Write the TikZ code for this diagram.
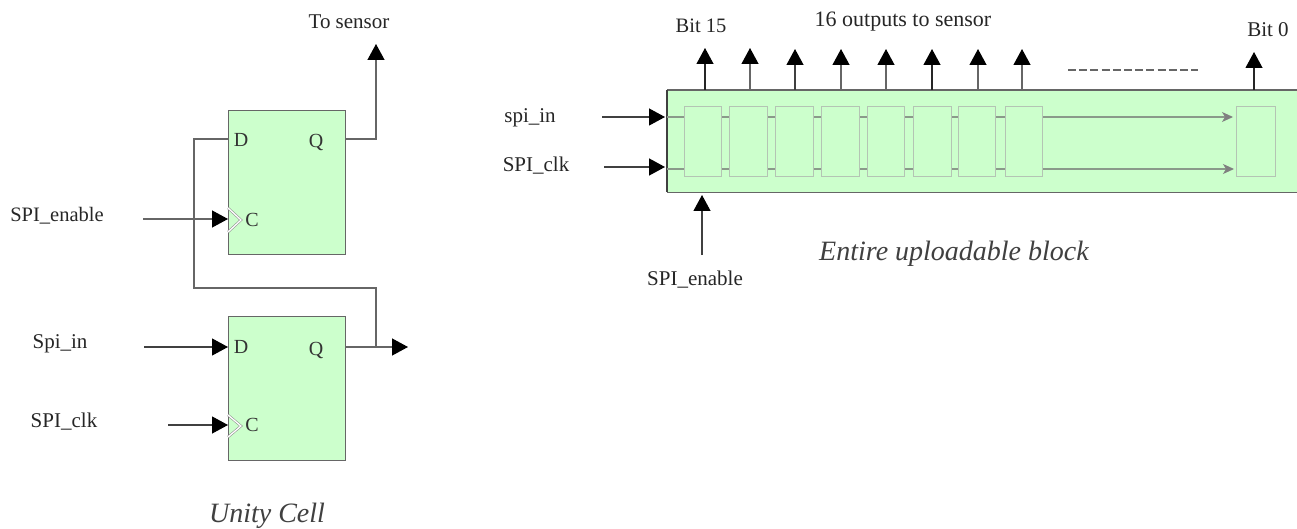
\documentclass[tikz,border=0pt]{standalone}
\usepackage{fontspec}
\setmainfont{Liberation Serif}
\usetikzlibrary{arrows.meta}
\definecolor{ffgreen}{HTML}{CCFFCC}
\definecolor{wire}{HTML}{666666}
\definecolor{cellgray}{HTML}{B4C4B4}
\definecolor{innergray}{HTML}{8A9A8A}
\tikzset{
  ffbox/.style={draw=wire,line width=1.2pt,fill=ffgreen,minimum width=117pt,minimum height=144pt,inner sep=0pt,anchor=north west},
  blockbox/.style={fill=ffgreen,minimum width=630pt,minimum height=102pt,inner sep=0pt,anchor=north west},
  cellbox/.style={draw=cellgray,line width=1.3pt,fill=ffgreen,minimum height=70pt,inner sep=0pt,anchor=north west},
  lbl/.style={font=\fontsize{21}{24}\selectfont,text=black!85,inner sep=0pt},
  pinlbl/.style={font=\fontsize{20}{22}\selectfont,text=black!80,inner sep=0pt},
  caplbl/.style={font=\fontsize{28}{30}\selectfont\itshape,text=black!75,inner sep=0pt},
  sig/.style={draw=wire,line width=1.3pt},
  sigarrow/.style={sig,-{Triangle[length=16pt,width=17pt,fill=black,color=black]}},
  darkarrow/.style={draw=black!75,line width=1.2pt,-{Triangle[length=16pt,width=17pt,fill=black,color=black]}},
  innerline/.style={draw=innergray,line width=1.1pt},
  innerarrow/.style={innerline,-{Stealth[length=11pt,width=10pt,inset=3pt,color=black!50]}},
  clockedge/.style={draw=black!45,line width=2.4pt,line join=miter},
  clockmark/.style={draw=white,line width=1.3pt,line join=miter},
}
\begin{document}
\begin{tikzpicture}[x=1pt,y=-1pt]
\useasboundingbox (0,0) rectangle (1297,529);
\fill[white] (0,0) rectangle (1297,529);
% ---------- Unity cell ----------
\node[ffbox] (ffa) at (228,110) {};
\node[ffbox] (ffb) at (228,316) {};
\node[pinlbl] (da) at (241,140) {D};
\node[pinlbl] (qa) at (316,143) {Q};
\node[pinlbl] (ca) at (252,220) {C};
\node[pinlbl] (db) at (241,347) {D};
\node[pinlbl] (qb) at (316,350) {Q};
\node[pinlbl] (cb) at (252,425) {C};
\coordinate (adin) at (228,139);
\coordinate (aqout) at (345,139);
\coordinate (acin) at (228,219);
\coordinate (bdin) at (228,347);
\coordinate (bqout) at (345,347);
\coordinate (bcin) at (228,425);
\coordinate (sensor) at (376,44);
\coordinate (fba) at (194,139);
\coordinate (fbb) at (194,288);
\coordinate (fbc) at (376,288);
\coordinate (fbd) at (376,347);
\coordinate (bout) at (408,347);
\coordinate (enfrom) at (143,219);
\coordinate (infrom) at (144,347);
\coordinate (clkfrom) at (168,425);
\draw[sig,line join=miter] (adin) -- (fba) -- (fbb) -- (fbc) -- (fbd);
\draw[sigarrow] (aqout) -| (sensor);
\draw[sigarrow] (bqout) -- (bout);
\draw[sigarrow] (enfrom) -- (acin);
\draw[darkarrow] (infrom) -- (bdin);
\draw[darkarrow] (clkfrom) -- (bcin);
\coordinate (ka1) at (228,208); \coordinate (ka2) at (241,220); \coordinate (ka3) at (228,232);
\coordinate (kb1) at (228,415); \coordinate (kb2) at (241,426); \coordinate (kb3) at (228,437);
\draw[clockedge] (ka1) -- (ka2) -- (ka3);
\draw[clockmark] (ka1) -- (ka2) -- (ka3);
\draw[clockedge] (kb1) -- (kb2) -- (kb3);
\draw[clockmark] (kb1) -- (kb2) -- (kb3);
\node[lbl] (tosensor) at (349,22) {To sensor};
\node[lbl,font=\fontsize{20.5}{24}\selectfont] (enleft) at (57,216) {SPI\_enable};
\node[lbl] (inleft) at (60,344) {Spi\_in};
\node[lbl] (clkleft) at (64,422) {SPI\_clk};
\node[caplbl] (unity) at (267,516) {Unity Cell};
% ---------- Entire block ----------
\node[blockbox] (block) at (667,90) {};
\draw[draw=wire,line width=1.3pt] (block.north east) -- (block.north west);
\draw[draw=wire,line width=1.3pt] (block.south east) -- (block.south west);
\draw[draw=black!75,line width=1.6pt] (block.north west) -- (block.south west);
\coordinate (rowa) at (667,117);
\coordinate (rowb) at (667,169);
\foreach \n/\l/\w in {1/684/37,2/729/38,3/775/38,4/821/38,5/867/37,6/913/38,7/958/37,8/1005/37,9/1236/39}
  \node[cellbox,minimum width=\w pt] (c\n) at (\l,106) {};
\foreach \a/\b in {1/2,2/3,3/4,4/5,5/6,6/7,7/8}{
  \draw[innerline] (c\a.east |- rowa) -- (c\b.west |- rowa);
  \draw[innerline] (c\a.east |- rowb) -- (c\b.west |- rowb);
}
\draw[innerline] (rowa) -- (c1.west |- rowa);
\draw[innerline] (rowb) -- (c1.west |- rowb);
\draw[innerarrow] (c8.east |- rowa) -- ([xshift=-3pt]c9.west |- rowa);
\draw[innerarrow] (c8.east |- rowb) -- ([xshift=-2pt]c9.west |- rowb);
% outputs
\foreach \n/\x/\t/\c in {1/705/48/black!85,2/750/48/wire,3/795/49/black!75,4/841/49/wire,5/886/49/wire,6/932/49/black!85,7/978/49/wire,8/1022/49/wire,9/1254/52/black!85}{
  \coordinate (ob\n) at (\x,90);
  \coordinate (ot\n) at (\x,\t);
  \draw[draw=\c,line width=1.2pt,-{Triangle[length=16pt,width=17pt,fill=black,color=black]}] (ob\n) -- (ot\n);
}
% inputs
\coordinate (spiinfrom) at (602,117);
\coordinate (spiinto) at (665,117);
\coordinate (spiclkfrom) at (604,167);
\coordinate (spiclkto) at (665,167);
\coordinate (enbfrom) at (702,255);
\coordinate (enbto) at (702,195);
\draw[darkarrow] (spiinfrom) -- (spiinto);
\draw[darkarrow,line width=1.5pt] (spiclkfrom) -- (spiclkto);
\draw[darkarrow] (enbfrom) -- (enbto);
\coordinate (dasha) at (1068,70);
\coordinate (dashb) at (1198,70);
\draw[draw=wire,line width=1.3pt,dash pattern=on 8pt off 3.2pt] (dasha) -- (dashb);
\node[lbl,font=\fontsize{20.5}{24}\selectfont] (bit15) at (701,26) {Bit 15};
\node[lbl,font=\fontsize{22}{24}\selectfont] (outputs) at (903,22) {16 outputs to sensor};
\node[lbl] (bit0) at (1268,30) {Bit 0};
\node[lbl] (spiin) at (530,118) {spi\_in};
\node[lbl] (spiclk) at (536,166) {SPI\_clk};
\node[lbl] (enbot) at (695,280) {SPI\_enable};
\node[caplbl] (entire) at (954,254) {Entire uploadable block};
\end{tikzpicture}
\end{document}
